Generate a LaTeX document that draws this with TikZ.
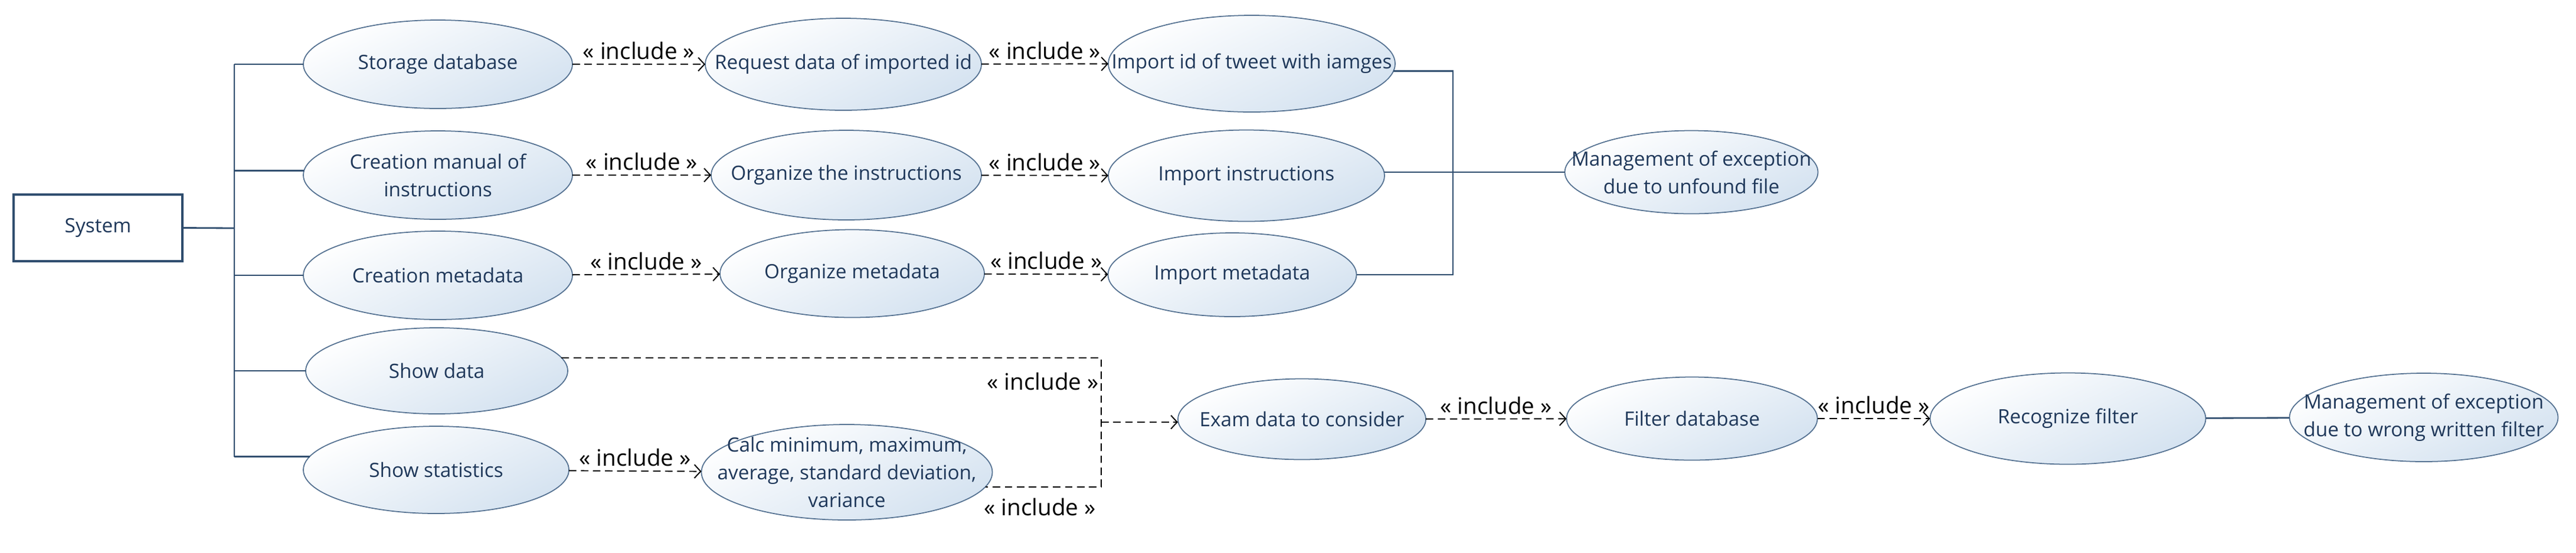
\documentclass[tikz,border=0pt]{standalone}
\usepackage{fontspec}
\setmainfont{Open Sans}
\usetikzlibrary{arrows.meta,shapes.geometric}
\definecolor{ucline}{RGB}{84,113,145}
\definecolor{ucfill}{RGB}{212,226,240}
\definecolor{uctext}{RGB}{31,56,90}
\definecolor{lncol}{RGB}{47,77,110}

\begin{document}
\begin{tikzpicture}
[uc/.style 2 args={ellipse,draw=ucline,line width=0.5pt,top color=white,bottom color=ucfill,shading angle=25,
  text=uctext,align=center,font=\fontsize{9.5}{13.3}\selectfont,inner xsep=-2cm,inner ysep=-1cm,outer sep=0pt,
  minimum width=#1cm,minimum height=#2cm},
 sys/.style={rectangle,draw=lncol,line width=0.9pt,fill=white,text=uctext,font=\fontsize{9.5}{13.3}\selectfont,
  minimum width=2.86cm,minimum height=1.13cm,outer sep=0pt},
 ln/.style={draw=lncol,line width=0.8pt},
 dep/.style={draw=black,line width=0.55pt,dash pattern=on 3.6pt off 2.2pt,-{Straight Barb[length=3pt,width=6.5pt]}},
 dsh/.style={draw=black,line width=0.5pt,dash pattern=on 3.6pt off 2.2pt},
 incl/.style={font=\fontsize{11}{13}\selectfont,text=black,inner sep=2pt}]
\useasboundingbox (0,0) rectangle (43.65,-9.37);
\node[sys] (s) at (1.66,-3.865) {System};
\node[uc={4.56}{1.50}] (sd) at (7.42,-1.09) {Storage database};
\node[uc={4.56}{1.50}] (cm) at (7.42,-2.97) {Creation manual of\\instructions};
\node[uc={4.56}{1.50}] (ct) at (7.42,-4.67) {Creation metadata};
\node[uc={4.44}{1.46}] (sh) at (7.40,-6.29) {Show data};
\node[uc={4.50}{1.48}] (ss) at (7.39,-7.97) {Show statistics};
\node[uc={4.68}{1.56}] (rd) at (14.29,-1.09) {Request data of imported id};
\node[uc={4.86}{1.64}] (ii) at (21.21,-1.08) {Import id of tweet with iamges};
\node[uc={4.58}{1.52}] (oi) at (14.34,-2.97) {Organize the instructions};
\node[uc={4.68}{1.55}] (in) at (21.12,-2.98) {Import instructions};
\node[uc={4.48}{1.49}] (om) at (14.44,-4.64) {Organize metadata};
\node[uc={4.21}{1.42}] (im) at (20.88,-4.66) {Import metadata};
\node[uc={4.93}{1.62}] (ca) at (14.35,-8.01) {Calc minimum, maximum,\\average, standard deviation,\\variance};
\node[uc={4.20}{1.37}] (ex) at (22.06,-7.11) {Exam data to consider};
\node[uc={4.25}{1.41}] (fd) at (28.67,-7.10) {Filter database};
\node[uc={4.67}{1.55}] (rf) at (35.04,-7.10) {Recognize filter};
\node[uc={4.29}{1.41}] (m1) at (28.66,-2.92) {Management of exception\\due to unfound file};
\node[uc={4.55}{1.50}] (m2) at (41.07,-7.08) {Management of exception\\due to wrong written filter};
\coordinate (t) at (3.97,-3.87);
\coordinate (k) at (24.62,-2.92);
\coordinate (j) at (18.66,-7.16);
\draw[ln] (s.east) -- (t);
\draw[ln] (t |- sd.west) -- (t |- ss.174);
\path[ln] (sd.west) edge (t |- sd.west)
(cm.178) edge (t |- cm.178)
(ct.west) edge (t |- ct.west)
(sh.west) edge (t |- sh.west)
(ss.174) edge (t |- ss.174);
\draw[ln] (ii.-3) -| (k) |- (im.east);
\draw[ln] (m1.west) -- (m1.west -| in.east);
\draw[ln] (rf) -- (m2);
\path (sd) edge[dep] node[incl,above] {« include »} (rd)
(rd) edge[dep] node[incl,above] {« include »} (ii)
(cm) edge[dep] node[incl,above] {« include »} (oi)
(oi) edge[dep] node[incl,above] {« include »} (in)
(ct) edge[dep] node[incl,above] {« include »} (om)
(om) edge[dep] node[incl,above] {« include »} (im)
(ss) edge[dep] node[incl,above] {« include »} (ca)
(ex) edge[dep] node[incl,above] {« include »} (fd)
(fd) edge[dep] node[incl,above] {« include »} (rf);
\draw[dsh] (sh.6) -| (j) |- (ca.-6);
\draw[dep] (j) -- (j -| ex.west);
\node[incl] (l1) at (17.67,-6.47) {« include »};
\node[incl] (l2) at (17.62,-8.60) {« include »};
\end{tikzpicture}
\end{document}
